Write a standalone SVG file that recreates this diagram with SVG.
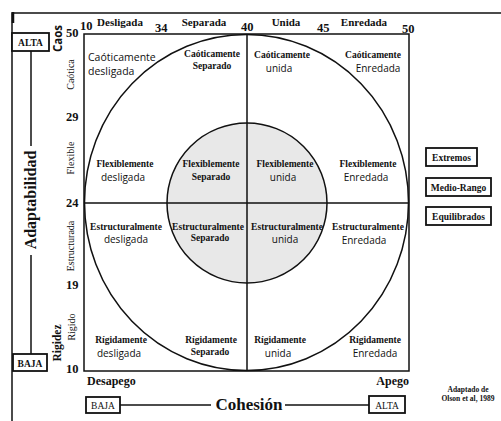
<svg xmlns="http://www.w3.org/2000/svg" width="501" height="421" viewBox="0 0 501 421">
<style>
.ln{stroke:#111;stroke-width:1.5;fill:none}
.bx{stroke:#111;stroke-width:1.8;fill:#fff}
.sb{font-family:"Liberation Serif",serif;font-weight:bold;fill:#111}
.ss{font-family:"Open Sans","DejaVu Sans",sans-serif;fill:#111}
.sr{font-family:"Liberation Serif",serif;fill:#111}
.q1{font-size:9.5px;text-anchor:middle}
.q2{font-size:10px;text-anchor:middle}
.num{font-family:"Liberation Serif",serif;font-weight:bold;font-size:12.5px;fill:#111}
</style>
<rect width="501" height="421" fill="#fff"/>
<!-- outer frame -->
<path class="ln" d="M12 421V13H501"/>
<path d="M13 12V23" stroke="#111" stroke-width="2.5"/>
<!-- main box and circles -->
<g id="grid">
<ellipse cx="246.5" cy="202.5" rx="162" ry="168" class="ln"/>
<circle cx="247" cy="203" r="80" fill="#e8e8e8" stroke="#111" stroke-width="1.5"/>
<rect x="84" y="34" width="325" height="337" class="ln"/>
<path class="ln" d="M247 34V371M84 203H409"/>
</g>
<!-- top axis -->
<g id="top-axis">
<text class="num" x="66" y="37">50</text>
<text class="num" x="80" y="30">10</text>
<text class="sb" x="120" y="26" font-size="11" text-anchor="middle">Desligada</text>
<text class="num" x="155" y="32">34</text>
<text class="sb" x="204" y="26" font-size="11" text-anchor="middle">Separada</text>
<text class="num" x="241" y="31">40</text>
<text class="sb" x="286" y="26" font-size="11" text-anchor="middle">Unida</text>
<text class="num" x="317" y="32">45</text>
<text class="sb" x="364" y="26" font-size="11" text-anchor="middle">Enredada</text>
<text class="num" x="402" y="33">50</text>
</g>
<!-- left axis -->
<g id="left-axis">
<text class="num" x="66" y="121">29</text>
<text class="num" x="66" y="207">24</text>
<text class="num" x="66" y="289">19</text>
<text class="num" x="66" y="373">10</text>
<text transform="translate(62,38.5) rotate(-90)" class="ss" font-weight="bold" font-size="11.5" text-anchor="middle">Caos</text>
<text transform="translate(74,74.5) rotate(-90)" class="sr" font-size="10" text-anchor="middle">Caótica</text>
<text transform="translate(74,158) rotate(-90)" class="sr" font-size="10" text-anchor="middle">Flexible</text>
<text transform="translate(74,246) rotate(-90)" class="sr" font-size="10" text-anchor="middle">Estructurada</text>
<text transform="translate(75,327) rotate(-90)" class="sr" font-size="10" text-anchor="middle">Rigido</text>
<text transform="translate(61,343) rotate(-90)" class="sb" font-size="11.5" text-anchor="middle">Rigidez</text>
<text transform="translate(36,200) rotate(-90)" class="sb" font-size="16" text-anchor="middle">Adaptabilidad</text>
</g>
<g id="alta-v"><rect x="12" y="33" width="37" height="18" class="bx"/><text class="sb" x="30.5" y="46" font-size="9.5" text-anchor="middle" font-weight="bold">ALTA</text></g>
<g id="baja-v"><rect x="13" y="354" width="34" height="17" class="bx"/><text class="sb" x="30" y="366.5" font-size="9.5" text-anchor="middle">BAJA</text></g>
<!-- bottom axis -->
<text class="sb" x="87" y="385" font-size="12">Desapego</text>
<text class="sb" x="409" y="385" font-size="12" text-anchor="end">Apego</text>
<text class="sb" x="249" y="410" font-size="17" text-anchor="middle">Cohesión</text>
<g id="baja-h"><rect x="86" y="397" width="34" height="16" class="bx"/><text class="sr" x="103" y="409" font-size="9.5" text-anchor="middle">BAJA</text></g>
<g id="alta-h"><rect x="369" y="396" width="36" height="17" class="bx"/><text class="sr" x="387" y="408.5" font-size="9.5" text-anchor="middle">ALTA</text></g>
<!-- connectors -->
<g id="connectors" class="ln" stroke-width="1.3">
<path d="M31 51V146"/>
<path d="M31 255V354"/>
<path d="M120 405H211"/>
<path d="M285 405H369"/>
</g>
<!-- quadrant labels -->
<g id="c11"><text class="ss" x="88" y="61" font-size="10.5">Caóticamente</text><text class="ss" x="88" y="75" font-size="10.5">desligada</text></g>
<g id="c12"><text class="sb q1" x="212" y="57">Caóticamente</text><text class="sb q1" x="212" y="69">Separado</text></g>
<g id="c13"><text class="sb q1" x="282" y="58">Caóticamente</text><text class="ss q2" x="279" y="72">unida</text></g>
<g id="c14"><text class="sb q1" x="373" y="58">Caóticamente</text><text class="ss q2" x="378" y="72">Enredada</text></g>
<g id="c21"><text class="sb q1" x="125" y="167">Flexiblemente</text><text class="ss q2" x="123" y="181">desligada</text></g>
<g id="c22"><text class="sb q1" x="211" y="167">Flexiblemente</text><text class="sb q1" x="211" y="180">Separado</text></g>
<g id="c23"><text class="sb q1" x="285" y="167">Flexiblemente</text><text class="ss q2" x="283" y="181">unida</text></g>
<g id="c24"><text class="sb q1" x="368" y="167">Flexiblemente</text><text class="ss q2" x="366" y="181">Enredada</text></g>
<g id="c31"><text class="sb q1" x="126" y="230">Estructuralmente</text><text class="ss q2" x="126" y="243">desligada</text></g>
<g id="c32"><text class="sb q1" x="208" y="230">Estructuralmente</text><text class="sb q1" x="210" y="241">Separado</text></g>
<g id="c33"><text class="sb q1" x="287" y="230">Estructuralmente</text><text class="ss q2" x="285" y="243">unida</text></g>
<g id="c34"><text class="sb q1" x="368" y="230">Estructuralmente</text><text class="ss q2" x="364" y="244">Enredada</text></g>
<g id="c41"><text class="sb q1" x="121" y="343">Rígidamente</text><text class="ss q2" x="119" y="357">desligada</text></g>
<g id="c42"><text class="sb q1" x="211" y="343">Rígidamente</text><text class="sb q1" x="210" y="355">Separado</text></g>
<g id="c43"><text class="sb q1" x="280" y="343">Rígidamente</text><text class="ss q2" x="278" y="357">unida</text></g>
<g id="c44"><text class="sb q1" x="375" y="343">Rígidamente</text><text class="ss q2" x="375" y="357">Enredada</text></g>
<!-- legend -->
<g id="leg1"><rect x="426" y="148" width="51" height="18" class="bx" stroke-width="2"/><text class="sb" x="451.5" y="160.5" font-size="9.5" text-anchor="middle">Extremos</text></g>
<g id="leg2"><rect x="426" y="178" width="65" height="18" class="bx" stroke-width="2"/><text class="sb" x="458.5" y="190.5" font-size="9.5" text-anchor="middle">Medio-Rango</text></g>
<g id="leg3"><rect x="426" y="207" width="65" height="18" class="bx" stroke-width="2"/><text class="sb" x="458.5" y="219.5" font-size="9.5" text-anchor="middle">Equilibrados</text></g>
<g id="source"><text class="sb" x="468" y="392" font-size="7.5" text-anchor="middle">Adaptado de</text><text class="sb" x="468" y="401" font-size="7.5" text-anchor="middle">Olson et al, 1989</text></g>
</svg>
